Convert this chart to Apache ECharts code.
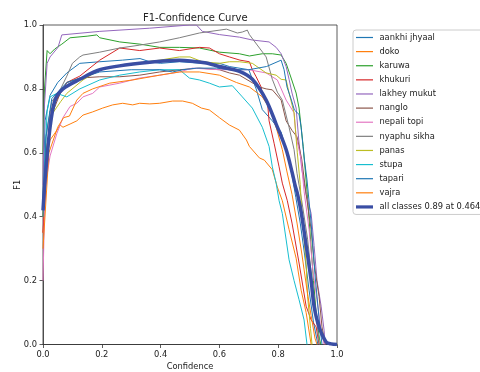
<!DOCTYPE html>
<html><head><meta charset="utf-8">
<script src="https://cdn.jsdelivr.net/npm/echarts@6/dist/echarts.min.js"></script>
<style>html,body{margin:0;padding:0;background:#fff}#c{width:480px;height:372px}</style>
</head><body><div id="c"></div>
<script>
// ---- data (confidence, F1) ----
const classNames = ['aankhi jhyaal','doko','karuwa','khukuri','lakhey mukut','nanglo','nepali topi','nyaphu sikha','panas','stupa','tapari','vajra'];
const aankhiJhyaal = [[0,0.45],[0.007,0.70],[0.024,0.78],[0.05,0.82],[0.081,0.85],[0.125,0.88],[0.193,0.885],[0.27,0.89],[0.33,0.895],[0.363,0.885],[0.4,0.88],[0.464,0.885],[0.54,0.88],[0.6,0.88],[0.634,0.87],[0.7,0.86],[0.725,0.80],[0.746,0.735],[0.78,0.70],[0.81,0.665],[0.83,0.60],[0.847,0.53],[0.86,0.46],[0.875,0.38],[0.89,0.28],[0.905,0.17],[0.92,0.07],[0.935,0]];
const doko = [[0,0.35],[0.014,0.59],[0.024,0.64],[0.047,0.67],[0.058,0.687],[0.068,0.68],[0.092,0.69],[0.115,0.70],[0.136,0.718],[0.169,0.728],[0.203,0.74],[0.237,0.75],[0.271,0.755],[0.305,0.75],[0.329,0.755],[0.363,0.753],[0.397,0.755],[0.441,0.762],[0.475,0.762],[0.508,0.755],[0.539,0.74],[0.566,0.734],[0.6,0.71],[0.634,0.687],[0.668,0.671],[0.692,0.64],[0.702,0.62],[0.736,0.584],[0.753,0.577],[0.78,0.547],[0.797,0.493],[0.814,0.45],[0.837,0.36],[0.861,0.27],[0.878,0.17],[0.895,0.10],[0.912,0]];
const karuwa = [[0,0.60],[0.005,0.80],[0.014,0.92],[0.024,0.91],[0.04,0.925],[0.064,0.94],[0.092,0.96],[0.15,0.965],[0.183,0.969],[0.193,0.96],[0.261,0.947],[0.33,0.94],[0.397,0.93],[0.464,0.93],[0.532,0.928],[0.6,0.915],[0.668,0.91],[0.702,0.903],[0.746,0.91],[0.78,0.91],[0.81,0.906],[0.827,0.88],[0.844,0.834],[0.861,0.787],[0.871,0.74],[0.885,0.62],[0.898,0.48],[0.91,0.33],[0.92,0.2],[0.93,0.09],[0.94,0.02],[0.945,0]];
const khukuri = [[0,0.35],[0.024,0.73],[0.081,0.82],[0.125,0.84],[0.193,0.89],[0.261,0.928],[0.329,0.92],[0.397,0.928],[0.464,0.92],[0.532,0.93],[0.566,0.928],[0.6,0.91],[0.634,0.90],[0.67,0.89],[0.702,0.885],[0.712,0.86],[0.725,0.838],[0.742,0.806],[0.746,0.78],[0.763,0.765],[0.769,0.70],[0.786,0.63],[0.803,0.556],[0.814,0.505],[0.831,0.45],[0.847,0.38],[0.871,0.255],[0.895,0.12],[0.912,0.077],[0.929,0.055],[0.939,0]];
const lakheyMukut = [[0,0.5],[0.005,0.75],[0.014,0.88],[0.024,0.90],[0.051,0.93],[0.064,0.969],[0.193,0.98],[0.363,0.99],[0.498,1.0],[0.522,1.0],[0.542,0.98],[0.6,0.97],[0.668,0.962],[0.712,0.953],[0.769,0.947],[0.793,0.93],[0.81,0.91],[0.827,0.87],[0.837,0.83],[0.847,0.787],[0.861,0.74],[0.87,0.64],[0.88,0.55],[0.895,0.47],[0.912,0.41],[0.922,0.31],[0.932,0.2],[0.946,0.12],[0.956,0.045],[0.96,0]];
const nanglo = [[0,0.4],[0.01,0.6],[0.03,0.72],[0.06,0.79],[0.081,0.82],[0.125,0.834],[0.193,0.838],[0.261,0.838],[0.329,0.843],[0.397,0.853],[0.464,0.86],[0.532,0.865],[0.6,0.86],[0.634,0.85],[0.668,0.843],[0.736,0.806],[0.759,0.80],[0.78,0.797],[0.81,0.765],[0.827,0.70],[0.847,0.67],[0.864,0.65],[0.88,0.58],[0.895,0.47],[0.912,0.36],[0.922,0.255],[0.939,0.15],[0.949,0.055],[0.956,0.02],[0.96,0]];
const nepaliTopi = [[0,0.2],[0.007,0.49],[0.024,0.59],[0.047,0.66],[0.068,0.71],[0.092,0.745],[0.115,0.755],[0.136,0.775],[0.169,0.786],[0.193,0.806],[0.261,0.818],[0.329,0.834],[0.397,0.843],[0.464,0.853],[0.508,0.865],[0.6,0.86],[0.7,0.86],[0.759,0.85],[0.797,0.828],[0.827,0.765],[0.854,0.725],[0.861,0.65],[0.878,0.58],[0.888,0.48],[0.905,0.36],[0.918,0.23],[0.932,0.14],[0.946,0.045],[0.956,0]];
const nyaphuSikha = [[0,0.45],[0.01,0.65],[0.03,0.76],[0.06,0.80],[0.081,0.84],[0.1,0.88],[0.125,0.90],[0.136,0.906],[0.193,0.915],[0.261,0.928],[0.329,0.937],[0.397,0.947],[0.464,0.96],[0.532,0.975],[0.624,0.987],[0.661,0.975],[0.678,0.978],[0.695,0.984],[0.702,0.97],[0.759,0.90],[0.78,0.83],[0.797,0.79],[0.814,0.765],[0.837,0.68],[0.854,0.61],[0.864,0.536],[0.88,0.45],[0.9,0.33],[0.915,0.2],[0.93,0.08],[0.94,0]];
const panas = [[0,0.4],[0.01,0.6],[0.03,0.72],[0.06,0.76],[0.081,0.786],[0.136,0.828],[0.193,0.86],[0.305,0.88],[0.397,0.89],[0.464,0.90],[0.5,0.9],[0.542,0.885],[0.6,0.88],[0.634,0.885],[0.668,0.885],[0.712,0.88],[0.759,0.85],[0.793,0.843],[0.81,0.83],[0.827,0.828],[0.837,0.787],[0.854,0.725],[0.865,0.6],[0.875,0.5],[0.88,0.42],[0.895,0.25],[0.9,0.15],[0.91,0.05],[0.915,0]];
const stupa = [[0,0.45],[0.014,0.73],[0.024,0.775],[0.047,0.786],[0.081,0.775],[0.125,0.80],[0.193,0.828],[0.261,0.843],[0.329,0.853],[0.397,0.86],[0.464,0.86],[0.498,0.834],[0.532,0.828],[0.566,0.818],[0.6,0.806],[0.644,0.81],[0.678,0.775],[0.712,0.74],[0.746,0.68],[0.769,0.62],[0.78,0.556],[0.793,0.505],[0.803,0.45],[0.814,0.41],[0.837,0.265],[0.854,0.2],[0.871,0.14],[0.888,0.077],[0.898,0]];
const tapari = [[0,0.40],[0.01,0.65],[0.03,0.77],[0.081,0.82],[0.193,0.853],[0.3,0.86],[0.397,0.86],[0.441,0.853],[0.475,0.86],[0.522,0.865],[0.59,0.865],[0.634,0.86],[0.7,0.86],[0.76,0.87],[0.81,0.89],[0.82,0.86],[0.83,0.806],[0.845,0.765],[0.855,0.734],[0.871,0.72],[0.878,0.68],[0.888,0.587],[0.898,0.515],[0.912,0.38],[0.925,0.22],[0.939,0.08],[0.949,0]];
const vajra = [[0,0.3],[0.02,0.6],[0.05,0.68],[0.07,0.71],[0.09,0.715],[0.115,0.765],[0.136,0.786],[0.169,0.80],[0.227,0.818],[0.305,0.828],[0.397,0.843],[0.464,0.853],[0.532,0.853],[0.6,0.843],[0.658,0.82],[0.702,0.806],[0.725,0.79],[0.746,0.775],[0.77,0.74],[0.793,0.68],[0.814,0.61],[0.83,0.54],[0.847,0.47],[0.864,0.38],[0.881,0.28],[0.898,0.17],[0.912,0.09],[0.925,0.02],[0.932,0]];
const allClasses = [[0,0.42],[0.007,0.515],[0.024,0.68],[0.041,0.765],[0.068,0.80],[0.125,0.83],[0.193,0.86],[0.329,0.88],[0.464,0.89],[0.55,0.882],[0.6,0.87],[0.668,0.855],[0.712,0.83],[0.759,0.765],[0.793,0.69],[0.827,0.61],[0.847,0.54],[0.857,0.50],[0.866,0.47],[0.878,0.415],[0.895,0.31],[0.912,0.20],[0.922,0.12],[0.939,0.055],[0.963,0.008],[0.98,0.002],[1.0,0]];
const allLabel = 'all classes 0.89 at 0.464';
const xTicks = [0, 0.2, 0.4, 0.6, 0.8, 1.0];
const yTicks = [0, 0.2, 0.4, 0.6, 0.8, 1.0];

const classData = [aankhiJhyaal, doko, karuwa, khukuri, lakheyMukut, nanglo, nepaliTopi, nyaphuSikha, panas, stupa, tapari, vajra];
const colors = ['#1f77b4','#ff7f0e','#2ca02c','#d62728','#9467bd','#8c564b','#e377c2','#7f7f7f','#bcbd22','#17becf','#1f77b4','#ff7f0e'];
const allColor = '#3a4ea4';
const FONT = 'DejaVu Sans';
const axisCol = '#333';

const chart = echarts.init(document.getElementById('c'), null, {renderer: 'canvas'});
const series = classNames.map((n, i) => ({
  name: n, type: 'line', data: classData[i], symbol: 'none', z: 2,
  lineStyle: {width: 1, color: colors[i]}, itemStyle: {color: colors[i]}
}));
series.push({
  name: allLabel, type: 'line', data: allClasses, symbol: 'none', smooth: 0.3, z: 3,
  lineStyle: {width: 3.5, color: allColor}, itemStyle: {color: allColor}
});
const legendData = classNames.map(n => ({name: n, icon: 'path://M0,0H17V1.2H0Z'}));
legendData.push({name: allLabel, icon: 'path://M0,0H17V3.2H0Z'});

chart.setOption({
  animation: false,
  backgroundColor: '#fff',
  textStyle: {fontFamily: FONT},
  title: {
    text: 'F1-Confidence Curve', left: 138, top: 8,
    textStyle: {fontFamily: FONT, fontSize: 10, fontWeight: 'normal', color: '#222'}
  },
  grid: {left: 43, right: 143, top: 25, bottom: 27.5, show: true, borderColor: axisCol, borderWidth: 0.8,
    backgroundColor: 'transparent', containLabel: false, outerBoundsMode: 'none'},
  legend: {
    orient: 'vertical', left: 353, top: 30, padding: [2.5, 6, 2.5, 3],
    itemWidth: 17, itemHeight: 10, itemGap: 4.12,
    backgroundColor: 'rgba(255,255,255,0.8)', borderColor: '#cccccc', borderWidth: 1, borderRadius: 3,
    data: legendData,
    textStyle: {fontFamily: FONT, fontSize: 8.3, color: '#222', lineHeight: 10, padding: [0, 0, 0, 1.5]}
  },
  xAxis: {
    type: 'value', min: 0, max: 1, interval: 0.2,
    name: 'Confidence', nameLocation: 'middle', nameGap: 18, nameMoveOverlap: false,
    nameTextStyle: {fontFamily: FONT, fontSize: 8.3, color: '#222'},
    axisLine: {show: true, lineStyle: {color: axisCol, width: 0.8}},
    axisTick: {show: true, length: 3.5, lineStyle: {color: axisCol, width: 0.8}},
    axisLabel: {margin: 6, fontFamily: FONT, fontSize: 8.3, color: '#222', formatter: v => v.toFixed(1),
      customValues: xTicks},
    splitLine: {show: false}
  },
  yAxis: {
    type: 'value', min: 0, max: 1, interval: 0.2,
    name: 'F1', nameLocation: 'middle', nameGap: 21, nameRotate: 90, nameMoveOverlap: false,
    nameTextStyle: {fontFamily: FONT, fontSize: 8.3, color: '#222'},
    axisLine: {show: true, lineStyle: {color: axisCol, width: 0.8}},
    axisTick: {show: true, length: 3.5, lineStyle: {color: axisCol, width: 0.8}},
    axisLabel: {margin: 6, fontFamily: FONT, fontSize: 8.3, color: '#222', formatter: v => v.toFixed(1),
      customValues: yTicks},
    splitLine: {show: false}
  },
  series: series
});
</script>
</body></html>
